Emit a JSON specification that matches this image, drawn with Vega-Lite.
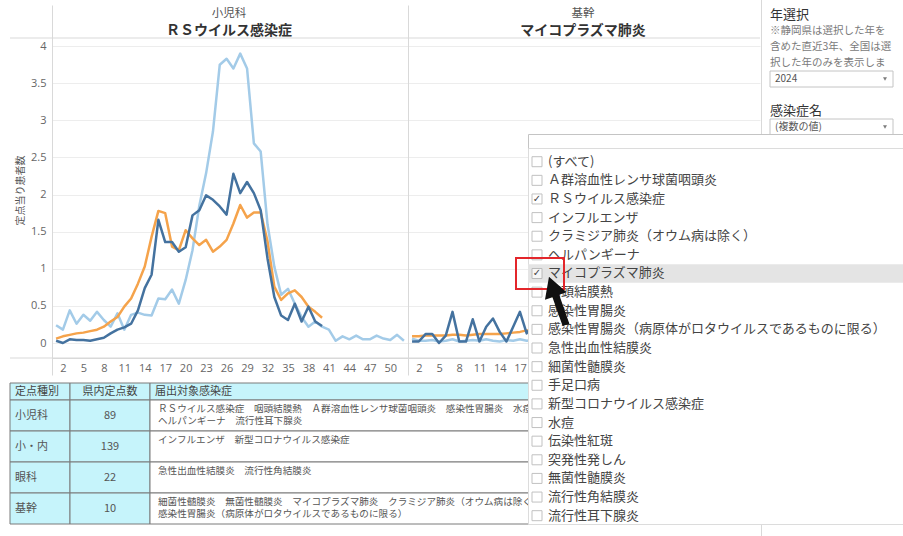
{
  "$schema": "https://vega.github.io/schema/vega-lite/v6.json",
  "width": 903,
  "height": 536,
  "autosize": {"type": "none"},
  "padding": 0,
  "background": "#ffffff",
  "config": {"view": {"stroke": null}, "font": "Noto Sans CJK JP"},
  "datasets": {
    "rs": [
      {"week":1,"value":0.24,"series":"2023"},{"week":2,"value":0.18,"series":"2023"},{"week":3,"value":0.44,"series":"2023"},{"week":4,"value":0.26,"series":"2023"},{"week":5,"value":0.38,"series":"2023"},{"week":6,"value":0.30,"series":"2023"},{"week":7,"value":0.42,"series":"2023"},{"week":8,"value":0.31,"series":"2023"},{"week":9,"value":0.22,"series":"2023"},{"week":10,"value":0.40,"series":"2023"},{"week":11,"value":0.18,"series":"2023"},{"week":12,"value":0.38,"series":"2023"},{"week":13,"value":0.41,"series":"2023"},{"week":14,"value":0.38,"series":"2023"},{"week":15,"value":0.37,"series":"2023"},{"week":16,"value":0.60,"series":"2023"},{"week":17,"value":0.59,"series":"2023"},{"week":18,"value":0.72,"series":"2023"},{"week":19,"value":0.53,"series":"2023"},{"week":20,"value":0.85,"series":"2023"},{"week":21,"value":1.25,"series":"2023"},{"week":22,"value":1.85,"series":"2023"},{"week":23,"value":2.29,"series":"2023"},{"week":24,"value":2.85,"series":"2023"},{"week":25,"value":3.75,"series":"2023"},{"week":26,"value":3.83,"series":"2023"},{"week":27,"value":3.70,"series":"2023"},{"week":28,"value":3.90,"series":"2023"},{"week":29,"value":3.70,"series":"2023"},{"week":30,"value":2.69,"series":"2023"},{"week":31,"value":2.58,"series":"2023"},{"week":32,"value":1.60,"series":"2023"},{"week":33,"value":1.03,"series":"2023"},{"week":34,"value":0.65,"series":"2023"},{"week":35,"value":0.73,"series":"2023"},{"week":36,"value":0.53,"series":"2023"},{"week":37,"value":0.35,"series":"2023"},{"week":38,"value":0.22,"series":"2023"},{"week":39,"value":0.29,"series":"2023"},{"week":40,"value":0.22,"series":"2023"},{"week":41,"value":0.18,"series":"2023"},{"week":42,"value":0.03,"series":"2023"},{"week":43,"value":0.09,"series":"2023"},{"week":44,"value":0.05,"series":"2023"},{"week":45,"value":0.10,"series":"2023"},{"week":46,"value":0.05,"series":"2023"},{"week":47,"value":0.05,"series":"2023"},{"week":48,"value":0.10,"series":"2023"},{"week":49,"value":0.06,"series":"2023"},{"week":50,"value":0.04,"series":"2023"},{"week":51,"value":0.11,"series":"2023"},{"week":52,"value":0.03,"series":"2023"},
      {"week":1,"value":0.06,"series":"全国"},{"week":2,"value":0.09,"series":"全国"},{"week":3,"value":0.11,"series":"全国"},{"week":4,"value":0.13,"series":"全国"},{"week":5,"value":0.14,"series":"全国"},{"week":6,"value":0.16,"series":"全国"},{"week":7,"value":0.18,"series":"全国"},{"week":8,"value":0.22,"series":"全国"},{"week":9,"value":0.29,"series":"全国"},{"week":10,"value":0.35,"series":"全国"},{"week":11,"value":0.49,"series":"全国"},{"week":12,"value":0.60,"series":"全国"},{"week":13,"value":0.80,"series":"全国"},{"week":14,"value":1.03,"series":"全国"},{"week":15,"value":1.43,"series":"全国"},{"week":16,"value":1.78,"series":"全国"},{"week":17,"value":1.75,"series":"全国"},{"week":18,"value":1.30,"series":"全国"},{"week":19,"value":1.25,"series":"全国"},{"week":20,"value":1.52,"series":"全国"},{"week":21,"value":1.41,"series":"全国"},{"week":22,"value":1.32,"series":"全国"},{"week":23,"value":1.39,"series":"全国"},{"week":24,"value":1.23,"series":"全国"},{"week":25,"value":1.30,"series":"全国"},{"week":26,"value":1.39,"series":"全国"},{"week":27,"value":1.61,"series":"全国"},{"week":28,"value":1.86,"series":"全国"},{"week":29,"value":1.69,"series":"全国"},{"week":30,"value":1.76,"series":"全国"},{"week":31,"value":1.76,"series":"全国"},{"week":32,"value":1.37,"series":"全国"},{"week":33,"value":0.76,"series":"全国"},{"week":34,"value":0.58,"series":"全国"},{"week":35,"value":0.67,"series":"全国"},{"week":36,"value":0.71,"series":"全国"},{"week":37,"value":0.62,"series":"全国"},{"week":38,"value":0.49,"series":"全国"},{"week":39,"value":0.42,"series":"全国"},{"week":40,"value":0.34,"series":"全国"},
      {"week":1,"value":0.03,"series":"2024"},{"week":2,"value":0.00,"series":"2024"},{"week":3,"value":0.05,"series":"2024"},{"week":4,"value":0.04,"series":"2024"},{"week":5,"value":0.04,"series":"2024"},{"week":6,"value":0.03,"series":"2024"},{"week":7,"value":0.05,"series":"2024"},{"week":8,"value":0.07,"series":"2024"},{"week":9,"value":0.13,"series":"2024"},{"week":10,"value":0.18,"series":"2024"},{"week":11,"value":0.21,"series":"2024"},{"week":12,"value":0.26,"series":"2024"},{"week":13,"value":0.44,"series":"2024"},{"week":14,"value":0.74,"series":"2024"},{"week":15,"value":0.92,"series":"2024"},{"week":16,"value":1.66,"series":"2024"},{"week":17,"value":1.36,"series":"2024"},{"week":18,"value":1.36,"series":"2024"},{"week":19,"value":1.23,"series":"2024"},{"week":20,"value":1.29,"series":"2024"},{"week":21,"value":1.72,"series":"2024"},{"week":22,"value":1.79,"series":"2024"},{"week":23,"value":1.99,"series":"2024"},{"week":24,"value":1.93,"series":"2024"},{"week":25,"value":1.84,"series":"2024"},{"week":26,"value":1.73,"series":"2024"},{"week":27,"value":2.28,"series":"2024"},{"week":28,"value":2.02,"series":"2024"},{"week":29,"value":2.17,"series":"2024"},{"week":30,"value":2.02,"series":"2024"},{"week":31,"value":1.79,"series":"2024"},{"week":32,"value":1.14,"series":"2024"},{"week":33,"value":0.62,"series":"2024"},{"week":34,"value":0.37,"series":"2024"},{"week":35,"value":0.31,"series":"2024"},{"week":36,"value":0.53,"series":"2024"},{"week":37,"value":0.29,"series":"2024"},{"week":38,"value":0.49,"series":"2024"},{"week":39,"value":0.29,"series":"2024"},{"week":40,"value":0.23,"series":"2024"}
    ],
    "myco": [
      {"week":1,"value":0.06,"series":"2023"},{"week":2,"value":0.03,"series":"2023"},{"week":3,"value":0.03,"series":"2023"},{"week":4,"value":0.04,"series":"2023"},{"week":5,"value":0.02,"series":"2023"},{"week":6,"value":0.03,"series":"2023"},{"week":7,"value":0.05,"series":"2023"},{"week":8,"value":0.02,"series":"2023"},{"week":9,"value":0.03,"series":"2023"},{"week":10,"value":0.04,"series":"2023"},{"week":11,"value":0.03,"series":"2023"},{"week":12,"value":0.05,"series":"2023"},{"week":13,"value":0.03,"series":"2023"},{"week":14,"value":0.02,"series":"2023"},{"week":15,"value":0.04,"series":"2023"},{"week":16,"value":0.03,"series":"2023"},{"week":17,"value":0.05,"series":"2023"},{"week":18,"value":0.03,"series":"2023"},{"week":19,"value":0.04,"series":"2023"},
      {"week":1,"value":0.09,"series":"全国"},{"week":2,"value":0.09,"series":"全国"},{"week":3,"value":0.10,"series":"全国"},{"week":4,"value":0.10,"series":"全国"},{"week":5,"value":0.10,"series":"全国"},{"week":6,"value":0.10,"series":"全国"},{"week":7,"value":0.11,"series":"全国"},{"week":8,"value":0.11,"series":"全国"},{"week":9,"value":0.10,"series":"全国"},{"week":10,"value":0.11,"series":"全国"},{"week":11,"value":0.12,"series":"全国"},{"week":12,"value":0.12,"series":"全国"},{"week":13,"value":0.12,"series":"全国"},{"week":14,"value":0.12,"series":"全国"},{"week":15,"value":0.13,"series":"全国"},{"week":16,"value":0.14,"series":"全国"},{"week":17,"value":0.15,"series":"全国"},{"week":18,"value":0.17,"series":"全国"},{"week":19,"value":0.17,"series":"全国"},
      {"week":1,"value":0.02,"series":"2024"},{"week":2,"value":0.02,"series":"2024"},{"week":3,"value":0.12,"series":"2024"},{"week":4,"value":0.12,"series":"2024"},{"week":5,"value":0.00,"series":"2024"},{"week":6,"value":0.10,"series":"2024"},{"week":7,"value":0.42,"series":"2024"},{"week":8,"value":0.02,"series":"2024"},{"week":9,"value":0.02,"series":"2024"},{"week":10,"value":0.32,"series":"2024"},{"week":11,"value":0.02,"series":"2024"},{"week":12,"value":0.22,"series":"2024"},{"week":13,"value":0.33,"series":"2024"},{"week":14,"value":0.15,"series":"2024"},{"week":15,"value":0.02,"series":"2024"},{"week":16,"value":0.22,"series":"2024"},{"week":17,"value":0.42,"series":"2024"},{"week":18,"value":0.13,"series":"2024"},{"week":19,"value":0.25,"series":"2024"}
    ],
    "headers": [
      {"panel": "小児科", "name": "ＲＳウイルス感染症"},
      {"panel": "基幹", "name": "マイコプラズマ肺炎"}
    ],
    "filter": [
      {"slot": "年選択", "role": "見出し", "text": "年選択"},
      {"slot": "注1", "role": "注記", "text": "※静岡県は選択した年を"},
      {"slot": "注2", "role": "注記", "text": "含めた直近3年、全国は選"},
      {"slot": "注3", "role": "注記", "text": "択した年のみを表示しま"},
      {"slot": "年", "role": "選択", "text": "2024"},
      {"slot": "感染症名", "role": "見出し", "text": "感染症名"},
      {"slot": "感染症", "role": "選択", "text": "(複数の値)"}
    ],
    "table": [
      {"kind": "小児科", "count": "89", "diseases": ["ＲＳウイルス感染症　咽頭結膜熱　Ａ群溶血性レンサ球菌咽頭炎　感染性胃腸炎　水痘", "ヘルパンギーナ　流行性耳下腺炎"]},
      {"kind": "小・内", "count": "139", "diseases": ["インフルエンザ　新型コロナウイルス感染症"]},
      {"kind": "眼科", "count": "22", "diseases": ["急性出血性結膜炎　流行性角結膜炎"]},
      {"kind": "基幹", "count": "10", "diseases": ["細菌性髄膜炎　無菌性髄膜炎　マイコプラズマ肺炎　クラミジア肺炎（オウム病は除く）", "感染性胃腸炎（病原体がロタウイルスであるものに限る）"]}
    ],
    "items": [
      {"item": "(すべて)", "checked": false},
      {"item": "Ａ群溶血性レンサ球菌咽頭炎", "checked": false},
      {"item": "ＲＳウイルス感染症", "checked": true},
      {"item": "インフルエンザ", "checked": false},
      {"item": "クラミジア肺炎（オウム病は除く）", "checked": false},
      {"item": "ヘルパンギーナ", "checked": false},
      {"item": "マイコプラズマ肺炎", "checked": true},
      {"item": "咽頭結膜熱", "checked": false},
      {"item": "感染性胃腸炎", "checked": false},
      {"item": "感染性胃腸炎（病原体がロタウイルスであるものに限る）", "checked": false},
      {"item": "急性出血性結膜炎", "checked": false},
      {"item": "細菌性髄膜炎", "checked": false},
      {"item": "手足口病", "checked": false},
      {"item": "新型コロナウイルス感染症", "checked": false},
      {"item": "水痘", "checked": false},
      {"item": "伝染性紅斑", "checked": false},
      {"item": "突発性発しん", "checked": false},
      {"item": "無菌性髄膜炎", "checked": false},
      {"item": "流行性角結膜炎", "checked": false},
      {"item": "流行性耳下腺炎", "checked": false}
    ]
  },
  "resolve": {"scale": {"x": "independent", "y": "independent", "color": "independent"}, "axis": {"x": "independent", "y": "independent"}},
  "layer": [
    {
      "data": {"name": "rs"},
      "mark": {"type": "line", "strokeWidth": 2.5, "strokeJoin": "round"},
      "encoding": {
        "x": {"field": "week", "type": "quantitative", "scale": {"domain": [0.4, 52.6], "range": [52, 408], "nice": false, "zero": false},
          "axis": {"orient": "bottom", "offset": -178, "values": [2,5,8,11,14,17,20,23,26,29,32,35,38,41,44,47,50], "title": null, "grid": false, "ticks": false, "domain": true, "domainColor": "#d9d9d9", "labelPadding": 4, "labelFontSize": 11, "labelColor": "#666666", "labelFont": "Open Sans", "labelOverlap": false, "labelFlush": false}},
        "y": {"field": "value", "type": "quantitative", "scale": {"domain": [-0.431, 4.555], "range": [375, 5], "nice": false, "zero": false},
          "axis": {"orient": "left", "offset": -52, "values": [0,0.5,1,1.5,2,2.5,3,3.5,4], "format": "~g", "title": "定点当り患者数", "titleFont": "Noto Sans CJK JP", "titleFontSize": 10, "titleFontWeight": "normal", "titleColor": "#555555", "titlePadding": 5, "grid": true, "gridColor": "#ededed", "ticks": false, "domain": true, "domainColor": "#d9d9d9", "labelPadding": 6, "labelFontSize": 11, "labelColor": "#666666", "labelFont": "Open Sans"}},
        "color": {"field": "series", "type": "nominal", "scale": {"domain": ["2023", "全国", "2024"], "range": ["#a3cbe8", "#f5a34b", "#44729f"]}, "legend": null}
      }
    },
    {
      "data": {"name": "myco"},
      "mark": {"type": "line", "strokeWidth": 2.5, "strokeJoin": "round"},
      "encoding": {
        "x": {"field": "week", "type": "quantitative", "scale": {"domain": [0.4, 52.6], "range": [408, 760], "nice": false, "zero": false},
          "axis": {"orient": "bottom", "offset": -178, "values": [2,5,8,11,14,17], "title": null, "grid": false, "ticks": false, "domain": true, "domainColor": "#d9d9d9", "labelPadding": 4, "labelFontSize": 11, "labelColor": "#666666", "labelFont": "Open Sans", "labelOverlap": false, "labelFlush": false}},
        "y": {"field": "value", "type": "quantitative", "scale": {"domain": [-0.431, 4.555], "range": [375, 5], "nice": false, "zero": false},
          "axis": {"orient": "left", "offset": -408, "values": [0,0.5,1,1.5,2,2.5,3,3.5,4], "labels": false, "title": null, "grid": true, "gridColor": "#ededed", "ticks": false, "domain": true, "domainColor": "#d9d9d9"}},
        "color": {"field": "series", "type": "nominal", "scale": {"domain": ["2023", "全国", "2024"], "range": ["#a3cbe8", "#f5a34b", "#44729f"]}, "legend": null}
      }
    },
    {
      "data": {"values": [{"edge": "見出し"}, {"edge": "軸"}]},
      "mark": {"type": "rule", "color": "#d9d9d9", "strokeWidth": 1},
      "encoding": {
        "y": {"field": "edge", "type": "nominal", "scale": {"type": "point", "domain": ["見出し", "軸"], "range": [38, 358], "padding": 0}, "axis": null},
        "x": {"datum": 0, "type": "quantitative", "scale": {"domain": [0, 1], "range": [10, 760]}, "axis": null},
        "x2": {"datum": 1}
      }
    },
    {
      "data": {"name": "headers"},
      "encoding": {
        "x": {"field": "panel", "type": "nominal", "scale": {"type": "band", "domain": ["小児科", "基幹"], "range": [52, 760], "paddingInner": 0, "paddingOuter": 0}, "axis": null}
      },
      "layer": [
        {"mark": {"type": "text", "fontSize": 11.5, "color": "#555555", "baseline": "middle"},
         "encoding": {"y": {"datum": "科", "type": "nominal", "scale": {"type": "point", "domain": ["科", "疾患"], "range": [13.5, 31], "padding": 0}, "axis": null}, "text": {"field": "panel"}}},
        {"mark": {"type": "text", "fontSize": 14, "fontWeight": "bold", "color": "#333333", "baseline": "middle"},
         "encoding": {"y": {"datum": "疾患", "type": "nominal"}, "text": {"field": "name"}}}
      ]
    },
    {
      "data": {"values": [{"panel": "フィルター"}]},
      "mark": {"type": "rect", "fill": "#ffffff", "stroke": "#d9d9d9", "strokeWidth": 1},
      "encoding": {
        "x": {"datum": 0, "type": "quantitative", "scale": {"domain": [0, 1], "range": [761.5, 910]}, "axis": null},
        "x2": {"datum": 1},
        "y": {"datum": 0, "type": "quantitative", "scale": {"domain": [0, 1], "range": [-5, 545]}, "axis": null},
        "y2": {"datum": 1}
      }
    },
    {
      "data": {"name": "filter"},
      "encoding": {
        "x": {"datum": 0, "type": "quantitative", "scale": {"domain": [0, 1], "range": [770, 893]}, "axis": null},
        "y": {"field": "slot", "type": "nominal", "scale": {"type": "band", "domain": ["年選択", "注1", "注2", "注3", "年", "間", "感染症名", "感染症"], "range": [7, 135], "paddingInner": 0, "paddingOuter": 0}, "axis": null}
      },
      "layer": [
        {"transform": [{"filter": "datum.role === '選択'"}], "mark": {"type": "rect", "fill": "#ffffff", "stroke": "#c4c4c4", "strokeWidth": 1}, "encoding": {"x2": {"datum": 1}}},
        {"transform": [{"filter": "datum.role === '見出し'"}], "mark": {"type": "text", "align": "left", "baseline": "middle", "fontSize": 13, "color": "#333333"}, "encoding": {"text": {"field": "text"}}},
        {"transform": [{"filter": "datum.role === '注記'"}], "mark": {"type": "text", "align": "left", "baseline": "middle", "fontSize": 10.5, "color": "#7a7a7a"}, "encoding": {"text": {"field": "text"}}},
        {"transform": [{"filter": "datum.role === '選択'"}], "mark": {"type": "text", "align": "left", "baseline": "middle", "dx": 5, "fontSize": 10, "color": "#555555"}, "encoding": {"text": {"field": "text"}}},
        {"transform": [{"filter": "datum.role === '選択'"}], "mark": {"type": "point", "shape": "triangle-down", "size": 16, "filled": true, "color": "#444444", "xOffset": -8}, "encoding": {"x": {"datum": 1, "type": "quantitative"}}}
      ]
    },
    {
      "data": {"values": [{"row": "見出し", "c1": "定点種別", "c2": "県内定点数", "c3": "届出対象感染症"}]},
      "encoding": {
        "y": {"field": "row", "type": "nominal", "scale": {"type": "band", "domain": ["見出し"], "range": [383, 400], "paddingInner": 0, "paddingOuter": 0}, "axis": null}
      },
      "resolve": {"scale": {"x": "independent"}},
      "layer": [
        {"mark": {"type": "rect", "fill": "#c6f4fb", "stroke": "#7a7a7a", "strokeWidth": 1},
         "encoding": {"x": {"datum": 0, "type": "quantitative", "scale": {"domain": [0, 1], "range": [10, 70]}, "axis": null}, "x2": {"datum": 1}}},
        {"mark": {"type": "rect", "fill": "#c6f4fb", "stroke": "#7a7a7a", "strokeWidth": 1},
         "encoding": {"x": {"datum": 0, "type": "quantitative", "scale": {"domain": [0, 1], "range": [70, 150]}, "axis": null}, "x2": {"datum": 1}}},
        {"mark": {"type": "rect", "fill": "#c6f4fb", "stroke": "#7a7a7a", "strokeWidth": 1},
         "encoding": {"x": {"datum": 0, "type": "quantitative", "scale": {"domain": [0, 1], "range": [150, 760]}, "axis": null}, "x2": {"datum": 1}}},
        {"mark": {"type": "text", "align": "left", "baseline": "middle", "dx": 5, "fontSize": 11, "color": "#444444"},
         "encoding": {"x": {"datum": 0, "type": "quantitative", "scale": {"domain": [0, 1], "range": [10, 70]}, "axis": null}, "text": {"field": "c1"}}},
        {"mark": {"type": "text", "align": "center", "baseline": "middle", "fontSize": 11, "color": "#444444"},
         "encoding": {"x": {"datum": 0.5, "type": "quantitative", "scale": {"domain": [0, 1], "range": [70, 150]}, "axis": null}, "text": {"field": "c2"}}},
        {"mark": {"type": "text", "align": "left", "baseline": "middle", "dx": 5, "fontSize": 11, "color": "#444444"},
         "encoding": {"x": {"datum": 0, "type": "quantitative", "scale": {"domain": [0, 1], "range": [150, 760]}, "axis": null}, "text": {"field": "c3"}}}
      ]
    },
    {
      "data": {"name": "table"},
      "encoding": {
        "y": {"field": "kind", "type": "nominal", "scale": {"type": "band", "domain": ["小児科", "小・内", "眼科", "基幹"], "range": [400, 524], "paddingInner": 0, "paddingOuter": 0}, "axis": null}
      },
      "resolve": {"scale": {"x": "independent"}},
      "layer": [
        {"mark": {"type": "rect", "fill": "#c6f4fb", "stroke": "#7a7a7a", "strokeWidth": 1},
         "encoding": {"x": {"datum": 0, "type": "quantitative", "scale": {"domain": [0, 1], "range": [10, 70]}, "axis": null}, "x2": {"datum": 1}}},
        {"mark": {"type": "rect", "fill": "#c6f4fb", "stroke": "#7a7a7a", "strokeWidth": 1},
         "encoding": {"x": {"datum": 0, "type": "quantitative", "scale": {"domain": [0, 1], "range": [70, 150]}, "axis": null}, "x2": {"datum": 1}}},
        {"mark": {"type": "rect", "fill": "#ffffff", "stroke": "#7a7a7a", "strokeWidth": 1},
         "encoding": {"x": {"datum": 0, "type": "quantitative", "scale": {"domain": [0, 1], "range": [150, 760]}, "axis": null}, "x2": {"datum": 1}}},
        {"mark": {"type": "text", "align": "left", "baseline": "middle", "dx": 5, "fontSize": 11, "color": "#555555"},
         "encoding": {"x": {"datum": 0, "type": "quantitative", "scale": {"domain": [0, 1], "range": [10, 70]}, "axis": null}, "text": {"field": "kind"}}},
        {"mark": {"type": "text", "align": "center", "baseline": "middle", "fontSize": 11, "color": "#555555"},
         "encoding": {"x": {"datum": 0.5, "type": "quantitative", "scale": {"domain": [0, 1], "range": [70, 150]}, "axis": null}, "text": {"field": "count"}}},
        {"mark": {"type": "text", "align": "left", "baseline": "top", "dx": 8, "dy": -12, "fontSize": 9.6, "lineHeight": 12.5, "color": "#555555"},
         "encoding": {"x": {"datum": 0, "type": "quantitative", "scale": {"domain": [0, 1], "range": [150, 760]}, "axis": null}, "text": {"field": "diseases"}}}
      ]
    },
    {
      "data": {"values": [{"panel": "感染症名リスト"}]},
      "mark": {"type": "rect", "fill": "#ffffff", "stroke": "#c4c4c4", "strokeWidth": 1},
      "encoding": {
        "x": {"datum": 0, "type": "quantitative", "scale": {"domain": [0, 1], "range": [528.5, 910]}, "axis": null},
        "x2": {"datum": 1},
        "y": {"datum": 0, "type": "quantitative", "scale": {"domain": [0, 1], "range": [134.5, 524.5]}, "axis": null},
        "y2": {"datum": 1}
      }
    },
    {
      "data": {"values": [{"panel": "項目"}]},
      "mark": {"type": "rect", "fillOpacity": 0, "stroke": "#dcdcdc", "strokeWidth": 1},
      "encoding": {
        "x": {"datum": 0, "type": "quantitative", "scale": {"domain": [0, 1], "range": [528.5, 910]}, "axis": null},
        "x2": {"datum": 1},
        "y": {"datum": 0, "type": "quantitative", "scale": {"domain": [0, 1], "range": [148.5, 524.5]}, "axis": null},
        "y2": {"datum": 1}
      }
    },
    {
      "data": {"name": "items"},
      "encoding": {
        "x": {"datum": 0, "type": "quantitative", "scale": {"domain": [0, 1], "range": [528, 906]}, "axis": null},
        "y": {"field": "item", "type": "nominal", "scale": {"type": "band", "domain": ["(すべて)", "Ａ群溶血性レンサ球菌咽頭炎", "ＲＳウイルス感染症", "インフルエンザ", "クラミジア肺炎（オウム病は除く）", "ヘルパンギーナ", "マイコプラズマ肺炎", "咽頭結膜熱", "感染性胃腸炎", "感染性胃腸炎（病原体がロタウイルスであるものに限る）", "急性出血性結膜炎", "細菌性髄膜炎", "手足口病", "新型コロナウイルス感染症", "水痘", "伝染性紅斑", "突発性発しん", "無菌性髄膜炎", "流行性角結膜炎", "流行性耳下腺炎"], "range": [152.4, 525], "paddingInner": 0, "paddingOuter": 0}, "axis": null}
      },
      "layer": [
        {"transform": [{"filter": "datum.item === 'マイコプラズマ肺炎'"}], "mark": {"type": "rect", "fill": "#e4e4e4"}, "encoding": {"x2": {"datum": 1}}},
        {"mark": {"type": "point", "shape": "square", "size": 100, "filled": true, "fill": "#ffffff", "stroke": "#a8a8a8", "strokeWidth": 1, "xOffset": 9}},
        {"transform": [{"filter": "datum.checked"}], "mark": {"type": "text", "text": "✓", "font": "DejaVu Sans", "fontSize": 10, "color": "#444444", "align": "center", "baseline": "middle", "dx": 9}},
        {"mark": {"type": "text", "align": "left", "baseline": "middle", "dx": 20, "fontSize": 13, "color": "#444444"}, "encoding": {"text": {"field": "item"}}},
        {"transform": [{"filter": "datum.item === 'マイコプラズマ肺炎'"}], "mark": {"type": "point", "shape": "M-1,-0.646H1V0.646H-1Z", "size": 2304, "filled": false, "color": "#e3262b", "strokeWidth": 2, "opacity": 1, "xOffset": 12}},
        {"transform": [{"filter": "datum.item === '咽頭結膜熱'"}], "mark": {"type": "point", "shape": "M0,-1L0.45,-0.2L0.14,-0.2L0.14,1L-0.14,1L-0.14,-0.2L-0.45,-0.2Z", "size": 2601, "filled": true, "color": "#111111", "opacity": 1, "angle": 340.5, "xOffset": 29.5, "yOffset": 8.7}}
      ]
    }
  ]
}
